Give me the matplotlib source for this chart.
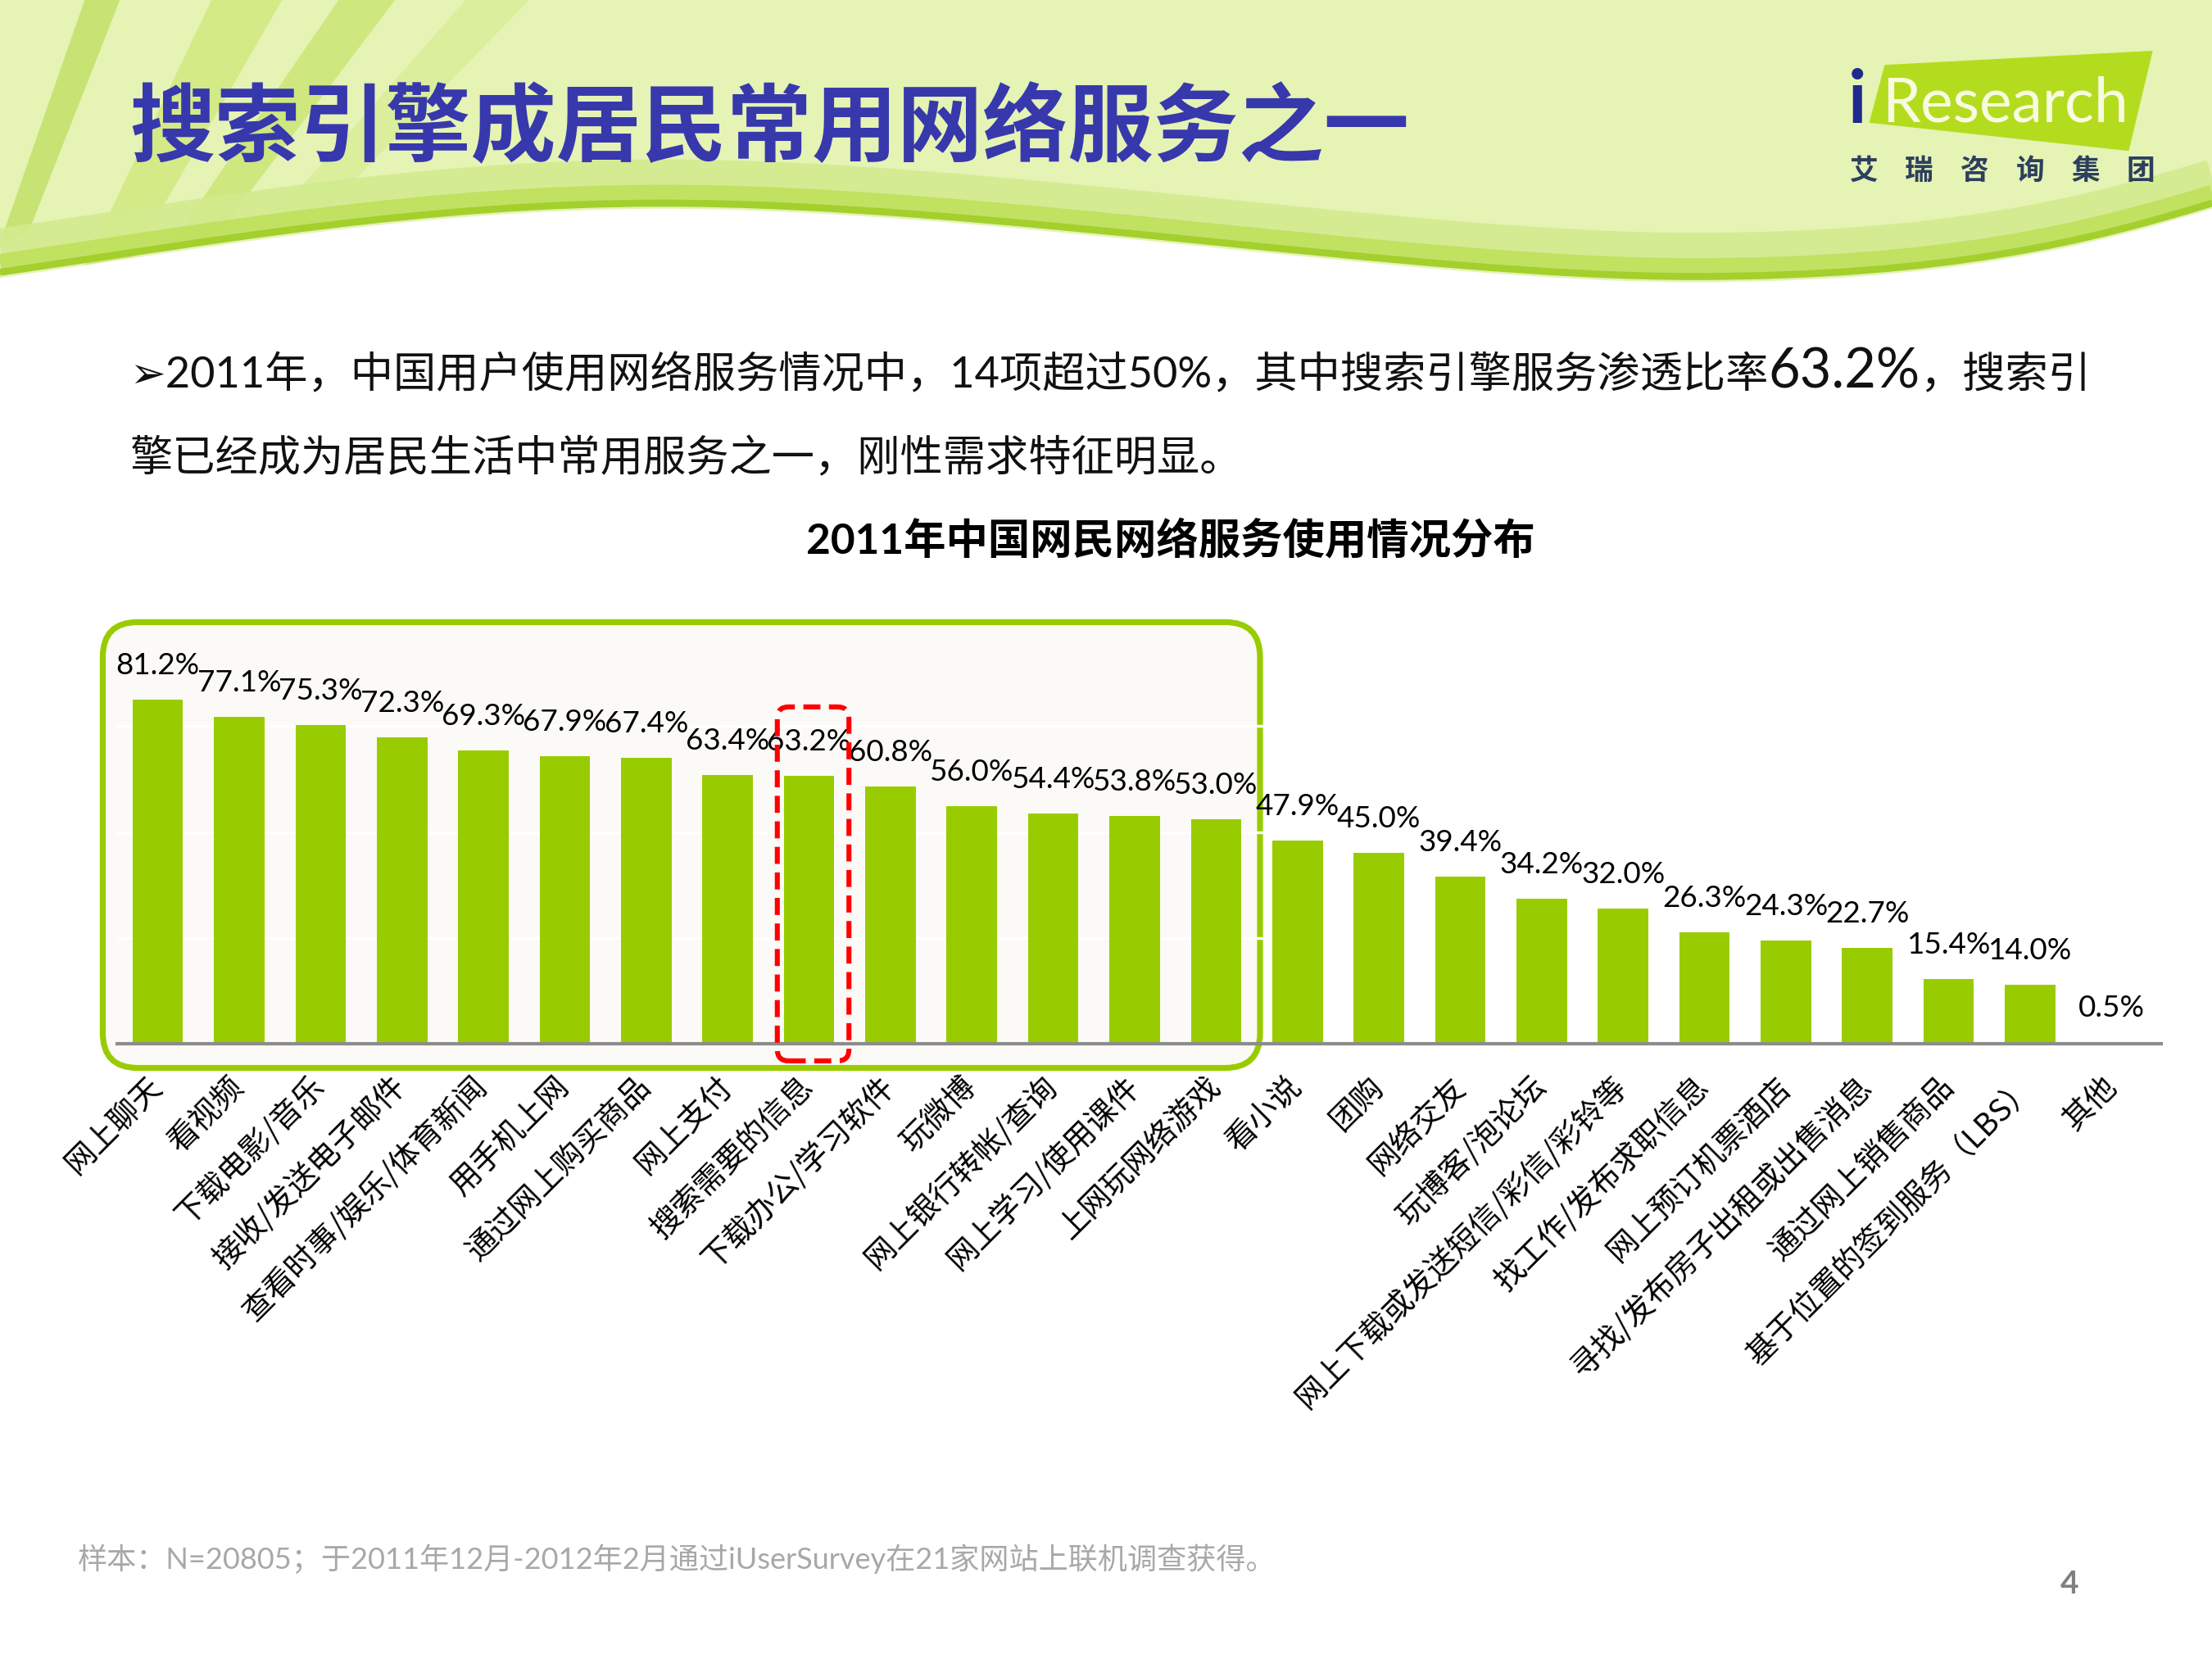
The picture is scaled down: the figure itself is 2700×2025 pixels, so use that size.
import matplotlib.pyplot as plt
from matplotlib.patches import FancyBboxPatch, Polygon, PathPatch
from matplotlib.path import Path
import numpy as np

categories = ['网上聊天', '看视频', '下载电影/音乐', '接收/发送电子邮件', '查看时事/娱乐/体育新闻',
              '用手机上网', '通过网上购买商品', '网上支付', '搜索需要的信息', '下载办公/学习软件',
              '玩微博', '网上银行转帐/查询', '网上学习/使用课件', '上网玩网络游戏', '看小说',
              '团购', '网络交友', '玩博客/泡论坛', '网上下载或发送短信/彩信/彩铃等', '找工作/发布求职信息',
              '网上预订机票酒店', '寻找/发布房子出租或出售消息', '通过网上销售商品', '基于位置的签到服务（LBS）', '其他']
values = [81.2, 77.1, 75.3, 72.3, 69.3, 67.9, 67.4, 63.4, 63.2, 60.8, 56.0, 54.4, 53.8, 53.0,
          47.9, 45.0, 39.4, 34.2, 32.0, 26.3, 24.3, 22.7, 15.4, 14.0, 0.5]

title = '搜索引擎成居民常用网络服务之一'
chart_title = '2011年中国网民网络服务使用情况分布'
body_line1 = ['➢2011年，中国用户使用网络服务情况中，14项超过50%，其中搜索引擎服务渗透比率', '63.2%', '，搜索引']
body_line2 = '擎已经成为居民生活中常用服务之一，刚性需求特征明显。'
note = '样本：N=20805；于2011年12月-2012年2月通过iUserSurvey在21家网站上联机调查获得。'

FONTS = ['Lato', 'Noto Sans CJK SC', 'DejaVu Sans']
CJK = ['Noto Sans CJK SC', 'DejaVu Sans']
GREEN = '#99cc00'

W, H = 1568, 1176  # layout measured on a 1568x1176 grid


def fx(px):
    return px / W


def fy(py):
    return 1 - py / H


fig = plt.figure(figsize=(13.5, 10.125), dpi=200)
fig.patch.set_facecolor('white')

# ---- header background ----
bg = fig.add_axes([0, 0, 1, 1], zorder=-10)
bg.set_xlim(0, W)
bg.set_ylim(H, 0)
bg.axis('off')

curve = [(0, 197), (150, 175), (300, 148), (470, 148),
         (700, 148), (1000, 200), (1200, 200),
         (1380, 200), (1480, 175), (1568, 148)]
codes = [Path.MOVETO] + [Path.CURVE4] * 9
head_verts = [(0, 0)] + curve + [(1568, 0), (0, 0)]
head_codes = [Path.MOVETO, Path.LINETO] + [Path.CURVE4] * 9 + [Path.LINETO, Path.CLOSEPOLY]
bg.add_patch(PathPatch(Path(head_verts, head_codes), fc='#e5f3b4', ec='none'))

streaks = [
    ([(60, 0), (85, 0), (20, 165), (0, 172)], '#b4d94a', 0.6),
    ([(150, 0), (200, 0), (95, 182), (60, 188)], '#cde775', 0.7),
    ([(240, 0), (280, 0), (150, 172), (118, 178)], '#c0df5c', 0.6),
    ([(330, 0), (375, 0), (220, 160), (185, 165)], '#d6ed92', 0.7),
]
for pts, col, a in streaks:
    bg.add_patch(Polygon(pts, closed=True, fc=col, ec='none', alpha=a))

for shift, lw, col, a in [(22, 26, '#d3eb8e', 0.9), (11, 12, '#bfe05c', 0.9), (4, 5, '#a3d02c', 1.0)]:
    v = [(x, y - shift) for x, y in curve]
    bg.add_patch(PathPatch(Path(v, codes), fc='none', ec=col, lw=lw * 72 / 200 * 1.722, alpha=a,
                           capstyle='butt'))

# logo
bg.add_patch(Polygon([(1336, 46), (1526, 36), (1509, 107), (1325, 87)], closed=True,
                     fc='#b4dc1e', ec='none'))
fig.text(fx(1310), fy(87), 'i', fontsize=32, fontweight='bold', color='#1f2a8c',
         family=FONTS, va='baseline')
fig.text(fx(1334), fy(86), 'Research', fontsize=27, color='#f8fbe0', family=FONTS, va='baseline')
for k, ch in enumerate('艾瑞咨询集团'):
    fig.text((2275 + 67.6 * k) / 2700, fy(121), ch, fontsize=12.5, fontweight='bold',
             color='#2d3f5f', family=CJK, ha='center', va='center')

# ---- texts ----
fig.text(fx(92), fy(92), title, fontsize=37.5, fontweight='bold', color='#3838ad',
         family=CJK, va='center')

renderer = fig.canvas.get_renderer()
x = fx(92)
for s, size in zip(body_line1, [18.8, 24, 18.8]):
    t = fig.text(x, fy(275), s, fontsize=size, family=FONTS, va='baseline', color='#111111')
    bb = t.get_window_extent(renderer)
    x = fig.transFigure.inverted().transform((bb.x1, 0))[0]
fig.text(fx(92), fy(334), body_line2, fontsize=18.8, family=FONTS, va='baseline', color='#111111')

fig.text(fx(830), fy(383), chart_title, fontsize=18.5, fontweight='bold', family=FONTS,
         ha='center', va='center')

fig.text(fx(55), fy(1105), note, fontsize=13, color='#a8a8a8', family=FONTS, va='center')
fig.text(fx(1467), fy(1123), '4', fontsize=14, color='#808080', family=FONTS, va='center',
         ha='center', fontweight='bold')

# ---- chart ----
ax = fig.add_axes([fx(83), fy(740), fx(1532 - 83), 300.5 / H])
ax.set_facecolor('none')
x = np.arange(len(values))
ax.set_xlim(-0.50, 24.61)
ax.set_ylim(0, 100)
for s in ax.spines.values():
    s.set_visible(False)
ax.set_yticks([])

aspect = (1 / 3.005) / (1 / 57.7)
box = FancyBboxPatch((-0.676, -5.66), 13.54 + 0.676, 99.5 + 5.66,
                     boxstyle='round,pad=0,rounding_size=0.43', mutation_aspect=aspect,
                     fc='#fbfaf6', ec=GREEN, lw=2.6, clip_on=False, zorder=0.5)
ax.add_patch(box)
for g in [25, 50, 75]:
    ax.axhline(g, color='white', lw=1.2, zorder=1)

ax.bar(x, values, width=0.62, color=GREEN, zorder=2)
ax.axhline(0, color='#8c8c8c', lw=1.5, zorder=3, clip_on=False)

for i, v in enumerate(values):
    ax.text(i, v + 6, f'{v:.1f}%', ha='center', va='baseline', fontsize=13.3, family=FONTS,
            zorder=4)

red = FancyBboxPatch((7.61, -4.0), 0.88, 83.5, boxstyle='round,pad=0,rounding_size=0.14',
                     mutation_aspect=aspect, fc='none', ec='#ff0000', lw=2.2,
                     ls=(0, (3.4, 1.7)), clip_on=False, zorder=5)
ax.add_patch(red)

ax.set_xticks(x)
ax.set_xticklabels(categories, rotation=45, ha='right', va='center', rotation_mode='anchor',
                   fontsize=13.5, family=CJK)
ax.tick_params(axis='x', length=0, pad=16.7)

fig.savefig('out.png', dpi=200)
